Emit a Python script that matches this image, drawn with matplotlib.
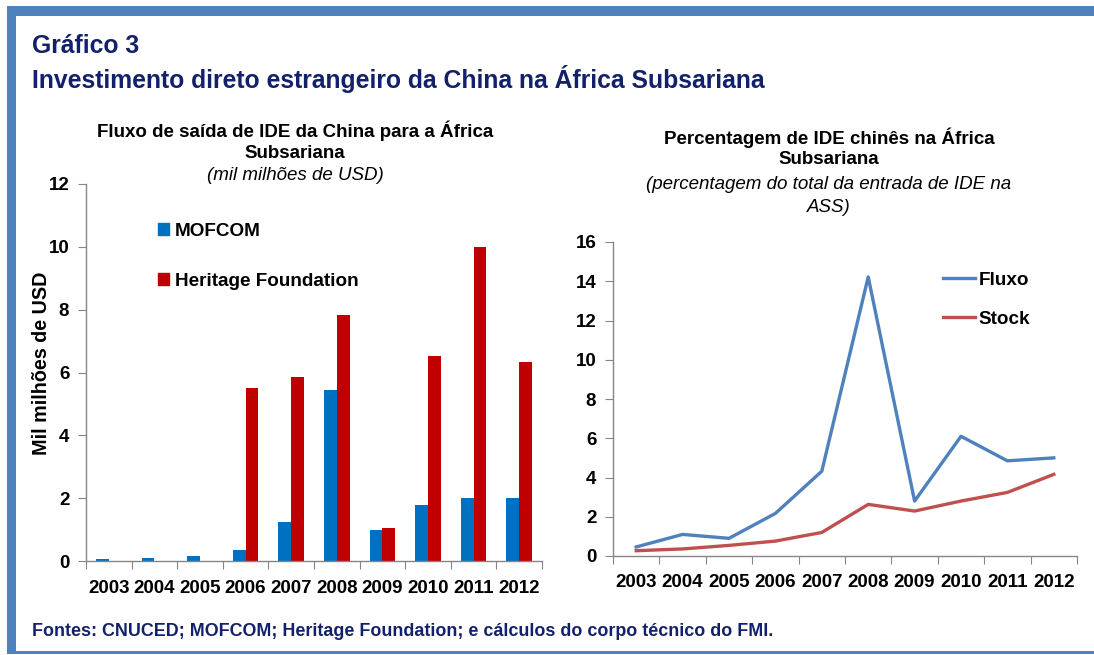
import matplotlib
matplotlib.use("Agg")
import matplotlib.pyplot as plt
import numpy as np
from matplotlib.patches import Rectangle

plt.rcParams['font.family'] = ['Liberation Sans', 'DejaVu Sans']

years = ["2003", "2004", "2005", "2006", "2007", "2008", "2009", "2010", "2011", "2012"]
mofcom = [0.05, 0.10, 0.17, 0.35, 1.25, 5.45, 1.00, 1.78, 1.99, 2.02]
heritage = [0.0, 0.0, 0.0, 5.52, 5.87, 7.83, 1.06, 6.54, 10.0, 6.33]
fluxo = [0.46, 1.10, 0.90, 2.17, 4.32, 14.22, 2.80, 6.10, 4.85, 5.00]
stock = [0.27, 0.36, 0.54, 0.76, 1.20, 2.63, 2.29, 2.80, 3.24, 4.16]

W, H = 1094, 655
fig = plt.figure(figsize=(W / 100, H / 100), dpi=100)
fig.patch.set_facecolor("white")

frame_c = "#4F81BD"
navy = "#13206B"
axis_c = "#868686"

def px(x, y):
    return x / W, 1 - y / H

# frame
fig.add_artist(Rectangle(px(7, 16), (W - 7) / W, 10 / H, transform=fig.transFigure,
                         color=frame_c, lw=0))
fig.add_artist(Rectangle(px(7, 653), 9 / W, 637 / H, transform=fig.transFigure,
                         color=frame_c, lw=0))
fig.add_artist(Rectangle(px(7, 654), (W - 7) / W, 3 / H, transform=fig.transFigure,
                         color=frame_c, lw=0))

# titles
fig.text(*px(32, 46), "Gráfico 3", fontsize=17.8, fontweight="bold", color=navy, va="center", ha="left")
fig.text(*px(32, 79), "Investimento direto estrangeiro da China na África Subsariana",
         fontsize=17.8, fontweight="bold", color=navy, va="center", ha="left")
fig.text(*px(32, 632), "Fontes: CNUCED; MOFCOM; Heritage Foundation; e cálculos do corpo técnico do FMI.",
         fontsize=12.9, fontweight="bold", color=navy, va="center", ha="left")

sub = 13.5
# subtitles left
fig.text(*px(295, 131), "Fluxo de saída de IDE da China para a África", fontsize=sub, fontweight="bold",
         ha="center", va="center")
fig.text(*px(295, 153), "Subsariana", fontsize=sub, fontweight="bold", ha="center", va="center")
fig.text(*px(295, 176), "(mil milhões de USD)", fontsize=sub, style="italic", ha="center", va="center")

# subtitles right
fig.text(*px(829, 138), "Percentagem de IDE chinês na África", fontsize=sub, fontweight="bold",
         ha="center", va="center")
fig.text(*px(829, 160), "Subsariana", fontsize=sub, fontweight="bold", ha="center", va="center")
fig.text(*px(829, 184), "(percentagem do total da entrada de IDE na", fontsize=sub, style="italic",
         ha="center", va="center")
fig.text(*px(829, 207), "ASS)", fontsize=sub, style="italic", ha="center", va="center")

def style_axes(ax, xpad):
    for s in ["top", "right"]:
        ax.spines[s].set_visible(False)
    for s in ["left", "bottom"]:
        ax.spines[s].set_color(axis_c)
        ax.spines[s].set_linewidth(1.0)
    n = len(years)
    ax.set_xlim(-0.5, n - 0.5)
    ax.set_xticks(np.arange(n + 1) - 0.5)
    ax.set_xticklabels([])
    ax.set_xticks(np.arange(n), minor=True)
    ax.set_xticklabels(years, minor=True, fontsize=13.5, fontweight="bold")
    ax.tick_params(axis="x", which="major", length=6, color=axis_c, direction="out")
    ax.tick_params(axis="x", which="minor", length=0, pad=xpad)
    ax.tick_params(axis="y", length=6, color=axis_c, direction="out", pad=6, labelsize=13.5)
    for lbl in ax.get_yticklabels():
        lbl.set_fontweight("bold")

x = np.arange(len(years))

# left chart
ax1 = fig.add_axes([86 / W, 1 - 561 / H, 456 / W, 377 / H])
bw = 0.28
ax1.bar(x - bw / 2, mofcom, bw, color="#0070C0", label="MOFCOM")
ax1.bar(x + bw / 2, heritage, bw, color="#C00000", label="Heritage Foundation")
ax1.set_ylim(0, 12)
ax1.set_yticks(np.arange(0, 13, 2))
style_axes(ax1, 14)
ax1.set_ylabel("Mil milhões de USD", fontsize=14.2, fontweight="bold", labelpad=-2)
ax1.yaxis.label.set_y(0.525)
h1 = [Rectangle((0, 0), 1, 1, color="#0070C0"), Rectangle((0, 0), 1, 1, color="#C00000")]
ax1.legend(h1, ["MOFCOM", "Heritage Foundation"], loc="upper left",
           bbox_to_anchor=((150 - 86) / 456, (561 - 215) / 377), frameon=False,
           prop={"size": 13.6, "weight": "bold"}, handlelength=0.6, handleheight=0.6,
           handletextpad=0.3, labelspacing=1.75, borderaxespad=0)

# right chart
ax2 = fig.add_axes([613 / W, 1 - 556 / H, 464 / W, 314 / H])
ax2.plot(x, fluxo, color="#4F81BD", lw=2.4, label="Fluxo")
ax2.plot(x, stock, color="#C0504D", lw=2.4, label="Stock")
ax2.set_ylim(0, 16)
ax2.set_yticks(np.arange(0, 17, 2))
style_axes(ax2, 13)
ax2.legend(loc="upper left", bbox_to_anchor=((935 - 613) / 464, (556 - 264) / 314), frameon=False,
           prop={"size": 13.6, "weight": "bold"}, handlelength=1.7, handletextpad=0.2,
           labelspacing=1.15, borderaxespad=0)

fig.savefig("out.png", dpi=100, facecolor="white")
